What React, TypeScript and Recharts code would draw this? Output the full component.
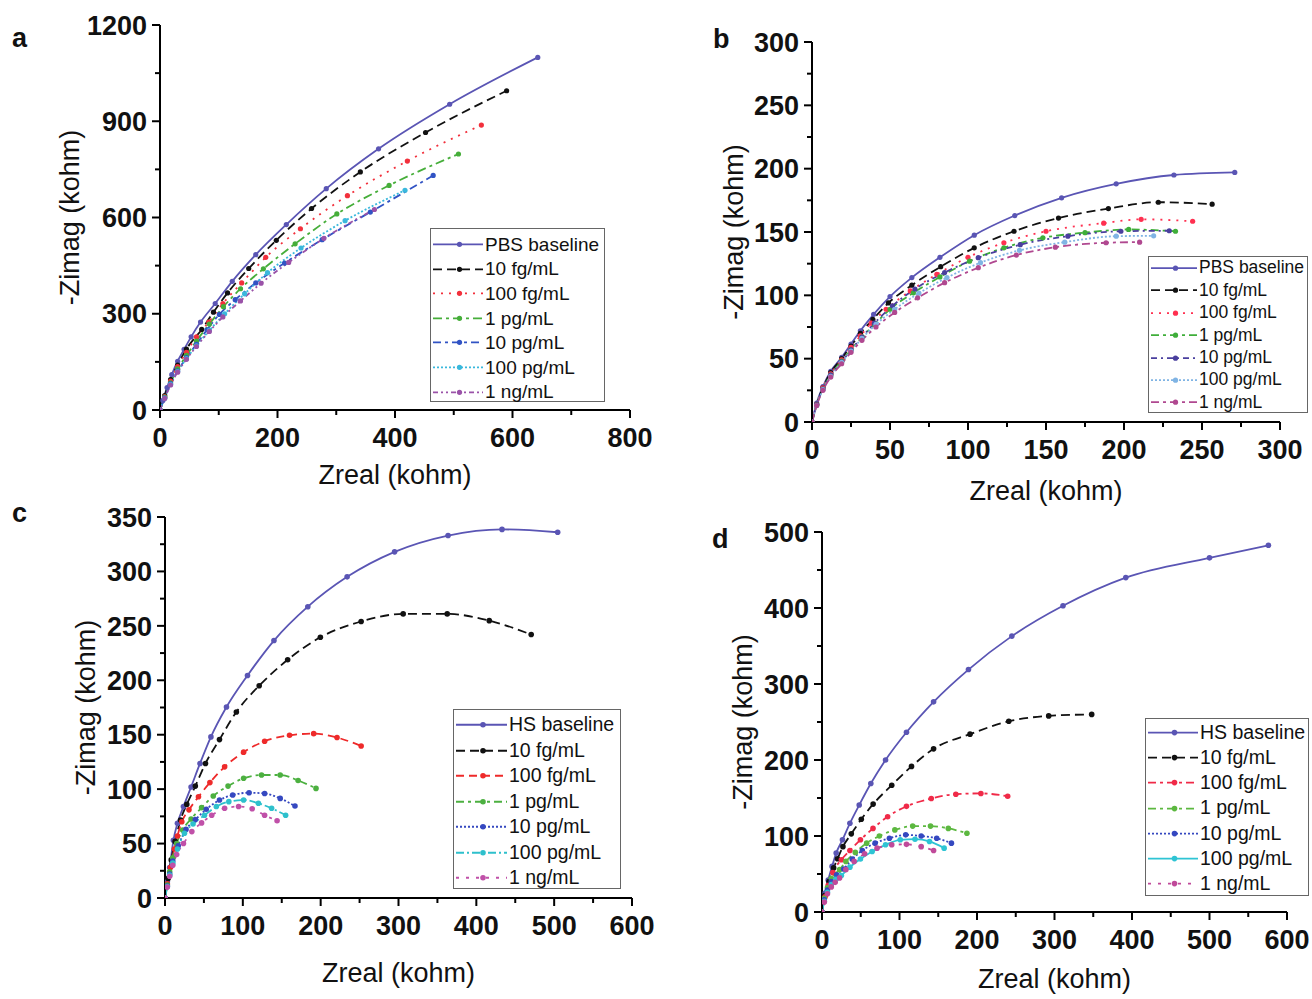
import React from 'react';
import { LineChart, Line, XAxis, YAxis, Legend, Label } from 'recharts';

const FONT = "Arial, 'Liberation Sans', Helvetica, sans-serif";

// ---------- tick values ----------
const aXTicks = [0, 100, 200, 300, 400, 500, 600, 700, 800];
const aXMajor = [0, 200, 400, 600, 800];
const aYTicks = [0, 150, 300, 450, 600, 750, 900, 1050, 1200];
const aYMajor = [0, 300, 600, 900, 1200];

const bXTicks = [0, 25, 50, 75, 100, 125, 150, 175, 200, 225, 250, 275, 300];
const bXMajor = [0, 50, 100, 150, 200, 250, 300];
const bYTicks = [0, 25, 50, 75, 100, 125, 150, 175, 200, 225, 250, 275, 300];
const bYMajor = [0, 50, 100, 150, 200, 250, 300];

const cXTicks = [0, 50, 100, 150, 200, 250, 300, 350, 400, 450, 500, 550, 600];
const cXMajor = [0, 100, 200, 300, 400, 500, 600];
const cYTicks = [0, 25, 50, 75, 100, 125, 150, 175, 200, 225, 250, 275, 300, 325, 350];
const cYMajor = [0, 50, 100, 150, 200, 250, 300, 350];

const dXTicks = [0, 50, 100, 150, 200, 250, 300, 350, 400, 450, 500, 550, 600];
const dXMajor = [0, 100, 200, 300, 400, 500, 600];
const dYTicks = [0, 50, 100, 150, 200, 250, 300, 350, 400, 450, 500];
const dYMajor = [0, 100, 200, 300, 400, 500];

// ---------- series names ----------
const pbsNames = ['PBS baseline', '10 fg/mL', '100 fg/mL', '1 pg/mL', '10 pg/mL', '100 pg/mL', '1 ng/mL'];
const hsNames = ['HS baseline', '10 fg/mL', '100 fg/mL', '1 pg/mL', '10 pg/mL', '100 pg/mL', '1 ng/mL'];

// ---------- panel a (PBS, Zreal vs -Zimag, kohm) ----------
const aBase = [[0, 0], [5, 30], [12, 70], [20, 110], [30, 152], [41, 189], [53, 228], [69, 274], [94, 332], [123, 401], [163, 484], [215, 578], [283, 690], [372, 814], [493, 953], [643, 1099]];
const a10fg = [[0, 0], [8, 45], [18, 95], [30, 140], [45, 190], [71, 251], [91, 305], [115, 365], [151, 441], [198, 529], [258, 628], [341, 742], [452, 865], [590, 995]];
const a100fg = [[0, 0], [8, 42], [18, 90], [30, 135], [45, 180], [62, 228], [83, 274], [107, 332], [139, 396], [180, 476], [239, 565], [319, 668], [421, 776], [547, 888]];
const a1pg = [[0, 0], [8, 40], [18, 85], [30, 128], [45, 170], [62, 215], [84, 268], [108, 322], [137, 378], [176, 440], [230, 518], [301, 611], [390, 700], [508, 798]];
const a10pg = [[0, 0], [8, 38], [18, 82], [30, 122], [45, 163], [62, 205], [80, 250], [101, 298], [128, 344], [163, 396], [212, 458], [276, 531], [358, 617], [465, 731]];
const a100pg = [[0, 0], [8, 37], [18, 80], [30, 120], [45, 160], [62, 200], [84, 248], [110, 300], [144, 362], [183, 428], [240, 505], [315, 590], [417, 685]];
const a1ng = [[0, 0], [8, 36], [18, 78], [30, 118], [45, 158], [62, 198], [84, 245], [107, 290], [137, 340], [172, 395], [219, 460], [279, 535], [365, 625]];

// ---------- panel b ----------
const bBase = [[0, 0], [3, 15], [7, 28], [12, 40], [19, 51], [25, 61.5], [31, 72], [39.5, 85], [50, 99], [64, 114], [82, 130], [104, 147.5], [130, 163], [160, 177], [195, 188], [232, 195], [271, 197]];
const b10fg = [[0, 0], [3, 14], [7, 27], [12, 39], [19, 50], [25, 60], [31, 70], [39, 81], [49, 94], [64, 108], [82.5, 122.6], [104, 137.5], [129.5, 150.6], [158, 161], [190, 168.5], [222, 173.5], [256.5, 172]];
const b100fg = [[0, 0], [3, 14], [7, 27], [12, 38], [19, 49], [25, 59], [31, 68], [38, 78], [47.5, 89], [63, 103.5], [80, 116.6], [100, 130], [123, 141.5], [150, 150.6], [187, 157], [211, 160], [244, 158.5]];
const b1pg = [[0, 0], [3, 13.5], [7, 26], [12, 37], [19, 48], [25, 57], [32, 67], [40, 77], [50, 89], [65, 102], [82, 114.5], [101, 127], [123, 137.5], [148, 145.4], [175, 149.5], [203, 152], [233, 150.6]];
const b10pg = [[0, 0], [3, 13.5], [7, 26], [12, 37], [19, 47.5], [25, 57], [32, 67], [40, 78], [51.6, 91.7], [66, 105], [85, 118], [106.6, 129.7], [133.5, 140], [164, 146.7], [198, 150.6], [229, 151]];
const b100pg = [[0, 0], [3, 13], [7, 25.5], [12, 36], [19, 47], [25, 56], [32, 66], [41, 77], [53, 89], [68.5, 101.7], [86.5, 114], [108, 125.8], [133, 135.5], [162, 142], [195, 146.7], [219, 147]];
const b1ng = [[0, 0], [3, 13], [7, 25], [12, 35.5], [19, 46], [25, 55], [32, 64.5], [41, 75], [53, 86.5], [67.7, 98], [85, 110], [106.6, 121.8], [131, 131.8], [156, 138], [188.5, 141.5], [210, 142]];

// ---------- panel c (HS) ----------
const cBase = [[0, 0], [3, 15], [6, 28], [10.8, 53], [16, 68.6], [23.7, 84], [33.5, 102], [45, 123.6], [59, 148], [79, 175.4], [106, 204.4], [140, 236.5], [183.5, 267.6], [234, 295], [295, 318], [363.7, 333], [433, 338.6], [504.5, 336]];
const c10fg = [[0, 0], [4, 18], [8, 35], [13, 52], [20, 71.7], [28, 86], [39, 102.8], [52, 123.6], [70, 145.5], [91.7, 170.9], [121, 195], [157.6, 218.8], [199.6, 239.5], [252, 254], [306, 261], [362.6, 261], [416.6, 254.8], [470.5, 242]];
const c100fg = [[0, 0], [3, 13], [7, 28], [12, 45], [16, 57], [21.6, 70], [30.8, 81], [43, 93], [57.7, 106], [76.6, 120.5], [101, 134], [128, 144], [160, 149.5], [191, 151], [221, 147.4], [252, 139.7]];
const c1pg = [[0, 0], [3, 12], [6, 24], [10, 37], [15, 50], [22.7, 62.5], [33.5, 72.6], [47, 83], [62, 93.7], [81, 102.8], [101, 110], [124, 113], [148, 113], [171, 108], [194, 100.7]];
const c10pg = [[0, 0], [3, 11], [6, 22], [10, 34], [17, 48], [27, 63], [39, 72], [53, 81.5], [70, 90], [87, 94.6], [108, 96.7], [128, 96], [148, 91.5], [167, 84.5]];
const c100pg = [[0, 0], [3, 10.5], [6, 21], [10, 32], [16, 45], [25, 59.5], [36, 68], [50.7, 76], [66, 84], [82, 88.5], [101, 90], [120, 87], [137, 82.4], [155, 76]];
const c1ng = [[0, 0], [3, 10], [6, 20], [10, 30], [15, 40], [23.7, 50], [34.5, 61], [47, 69], [60, 76], [76.6, 82.4], [94.5, 84], [112, 82], [128, 76], [144, 71]];

// ---------- panel d (HS) ----------
const dBase = [[0, 0], [4, 25], [8, 42], [13, 60], [18.3, 77.5], [26.4, 95], [36, 116.7], [48, 140.7], [63, 169], [82, 200], [109, 236.5], [144, 276.5], [189, 319], [245, 363], [311, 403], [392, 440], [500, 466], [576, 482.5]];
const d10fg = [[0, 0], [4, 22], [9, 40], [15, 58], [20, 70], [27, 86], [37.8, 102.8], [50.7, 122], [66, 142], [90, 166.8], [115.5, 191.6], [144, 214.7], [191, 234], [241, 251], [292.5, 258], [348, 260]];
const d100fg = [[0, 0], [4, 20], [8, 35], [14, 52], [25, 68.8], [36, 81], [49.6, 95], [65.8, 110], [84.7, 125.4], [109, 139], [141, 149.4], [172.7, 155], [205, 156], [239.6, 152.4]];
const d1pg = [[0, 0], [3, 18], [7, 32], [12, 44], [22.7, 55.7], [30.8, 66.6], [43, 78.4], [57.7, 90.6], [74, 100], [94, 108], [117, 113], [140, 113], [163, 110], [187, 103.6]];
const d10pg = [[0, 0], [3, 16], [7, 29], [12, 40], [19, 49], [28, 56.6], [39, 69.7], [52, 81], [68.5, 90.6], [87, 97], [108, 101.5], [128, 100], [148, 97], [167, 90.6]];
const d100pg = [[0, 0], [3, 14], [7, 26], [12, 36], [18, 43], [25, 48], [36, 59], [49.6, 69.7], [64.7, 79.7], [82, 88.4], [101, 95], [120, 95.8], [138.7, 92.8], [157.6, 84]];
const d1ng = [[0, 0], [3, 13], [7, 24], [12, 33], [17, 39], [22.7, 44.9], [30.8, 55.7], [41.5, 66.6], [55, 76.6], [71, 84], [90, 88.4], [109, 89], [128, 86], [144, 81]];

// ---------- styles ----------
const aColors = ['#5a55b4', '#111111', '#f2303c', '#46ae3a', '#3153c4', '#3ab8dc', '#9a52a8'];
const bColors = ['#5a55b4', '#111111', '#ff3050', '#3fae3a', '#4a3f9e', '#80b4e4', '#b04890'];
const cColors = ['#5a55b4', '#111111', '#ee2a2a', '#4cb040', '#3548c0', '#2ec0cc', '#c050a8'];
const dColors = ['#5a55b4', '#111111', '#f02a48', '#5cb840', '#3548c0', '#2ec4d4', '#c04a9a'];

const aDash = [undefined, '9 5', '2 6', '9 4 3 4', '8 4 3 4', '2 2', '5 3 2 3 2 3'];
const bDash = [undefined, '9 5', '2 6', '8 4 3 4', '6 4 2 4', '2 2', '8 4 3 4'];
const cDash = [undefined, '9 5', '8 5', '8 4 3 4', '2 2', '8 3 2 3', '3 7'];
const dDash = [undefined, '9 5', '8 4 3 4', '8 4 3 4', '2 2', undefined, '3 7'];

type Pt = number[];
const toPts = (arr: Pt[]) => arr.map(([x, y]) => ({ x, y }));

const build = (names: string[], sets: Pt[][], colors: string[], dashes: (string | undefined)[]) =>
  names.map((name, i) => ({ name, data: toPts(sets[i]), color: colors[i], dash: dashes[i] }));

const panels = [
  {
    id: 'a', left: 0, top: 0, w: 656, h: 500,
    plot: { l: 160, r: 630, t: 25, b: 410 },
    xMax: 800, xTicks: aXTicks, xMajor: aXMajor, yMax: 1200, yTicks: aYTicks, yMajor: aYMajor,
    letter: { x: 12, y: 47 }, xTitleDy: 74, yTitleDx: 91, dotR: 2.6,
    legend: { left: 430, top: 228, w: 175, h: 174, rowH: 24.6, padTop: 3, sampleW: 53, font: 19 },
    series: build(pbsNames, [aBase, a10fg, a100fg, a1pg, a10pg, a100pg, a1ng], aColors, aDash),
  },
  {
    id: 'b', left: 656, top: 0, w: 656, h: 512,
    plot: { l: 812, r: 1280, t: 42, b: 422 },
    xMax: 300, xTicks: bXTicks, xMajor: bXMajor, yMax: 300, yTicks: bYTicks, yMajor: bYMajor,
    letter: { x: 713, y: 48 }, xTitleDy: 78, yTitleDx: 79, dotR: 2.6,
    legend: { left: 1148, top: 256, w: 160, h: 157, rowH: 22.4, padTop: 0, sampleW: 49, font: 17.5 },
    series: build(pbsNames, [bBase, b10fg, b100fg, b1pg, b10pg, b100pg, b1ng], bColors, bDash),
  },
  {
    id: 'c', left: 0, top: 490, w: 656, h: 509,
    plot: { l: 165, r: 632, t: 517, b: 898 },
    xMax: 600, xTicks: cXTicks, xMajor: cXMajor, yMax: 350, yTicks: cYTicks, yMajor: cYMajor,
    letter: { x: 12, y: 522 }, xTitleDy: 84, yTitleDx: 80, dotR: 2.8,
    legend: { left: 453, top: 709, w: 168, h: 180, rowH: 25.5, padTop: 2, sampleW: 54, font: 19.5 },
    series: build(hsNames, [cBase, c10fg, c100fg, c1pg, c10pg, c100pg, c1ng], cColors, cDash),
  },
  {
    id: 'd', left: 656, top: 505, w: 656, h: 494,
    plot: { l: 822, r: 1287, t: 532, b: 912 },
    xMax: 600, xTicks: dXTicks, xMajor: dXMajor, yMax: 500, yTicks: dYTicks, yMajor: dYMajor,
    letter: { x: 712, y: 548 }, xTitleDy: 76, yTitleDx: 80, dotR: 2.8,
    legend: { left: 1145, top: 718, w: 164, h: 178, rowH: 25.2, padTop: 1, sampleW: 53, font: 19.5 },
    series: build(hsNames, [dBase, d10fg, d100fg, d1pg, d10pg, d100pg, d1ng], dColors, dDash),
  },
];

const TICK_FONT = 27;

function renderXTick(p: any, majors: number[]) {
  const v = p.payload.value;
  const major = majors.includes(v);
  return (
    <g>
      <line x1={p.x} x2={p.x} y1={p.y} y2={p.y + (major ? 8 : 5)} stroke="#000" strokeWidth={2} />
      {major && (
        <text x={p.x} y={p.y + 37} textAnchor="middle" fontSize={TICK_FONT} fontWeight="bold" fontFamily={FONT} fill="#111">
          {v}
        </text>
      )}
    </g>
  );
}

function renderYTick(p: any, majors: number[]) {
  const v = p.payload.value;
  const major = majors.includes(v);
  return (
    <g>
      <line x1={p.x} x2={p.x - (major ? 8 : 5)} y1={p.y} y2={p.y} stroke="#000" strokeWidth={2} />
      {major && (
        <text x={p.x - 13} y={p.y} dy="0.36em" textAnchor="end" fontSize={TICK_FONT} fontWeight="bold" fontFamily={FONT} fill="#111">
          {v}
        </text>
      )}
    </g>
  );
}

function LegendBox({ cfg }: { cfg: any }) {
  const L = cfg.legend;
  return (
    <div
      style={{
        boxSizing: 'border-box', width: L.w, height: L.h, border: '1.5px solid #666', background: '#fff',
        paddingTop: L.padTop, fontFamily: FONT,
      }}
    >
      {cfg.series.map((s: any, i: number) => (
        <div key={i} style={{ height: L.rowH, display: 'flex', alignItems: 'center' }}>
          <svg width={L.sampleW} height={L.rowH} style={{ display: 'block', flex: 'none' }}>
            <line x1={2} x2={L.sampleW - 1} y1={L.rowH / 2} y2={L.rowH / 2} stroke={s.color} strokeWidth={1.8} strokeDasharray={s.dash} />
            <circle cx={L.sampleW / 2 + 2} cy={L.rowH / 2} r={cfg.dotR} fill={s.color} />
          </svg>
          <span style={{ fontSize: L.font, lineHeight: 1, marginLeft: 1, color: '#111', whiteSpace: 'nowrap' }}>{s.name}</span>
        </div>
      ))}
    </div>
  );
}

function Panel({ cfg }: { cfg: any }) {
  const { left, top, w, h, plot } = cfg;
  const pl = plot.l - left;
  const pr = plot.r - left;
  const pt = plot.t - top;
  const pb = plot.b - top;
  const lx = cfg.letter.x - left;
  const ly = cfg.letter.y - top;
  const ycx = pl - cfg.yTitleDx;
  const ycy = (pt + pb) / 2;
  return (
    <div style={{ position: 'absolute', left, top, width: w, height: h }}>
      <LineChart width={w} height={h} margin={{ top: pt, right: w - pr, bottom: 0, left: 0 }}>
        <XAxis
          type="number" dataKey="x" domain={[0, cfg.xMax]} ticks={cfg.xTicks} interval={0}
          height={h - pb} tickSize={0} tickMargin={0} tickLine={false} allowDataOverflow
          axisLine={{ stroke: '#000', strokeWidth: 2 }}
          tick={(p: any) => renderXTick(p, cfg.xMajor)}
        >
          <Label
            content={() => (
              <text x={(pl + pr) / 2} y={pb + cfg.xTitleDy} textAnchor="middle" fontSize={27} fontFamily={FONT} fill="#111">
                Zreal (kohm)
              </text>
            )}
          />
        </XAxis>
        <YAxis
          type="number" domain={[0, cfg.yMax]} ticks={cfg.yTicks} interval={0}
          width={pl} tickSize={0} tickMargin={0} tickLine={false} allowDataOverflow
          axisLine={{ stroke: '#000', strokeWidth: 2 }}
          tick={(p: any) => renderYTick(p, cfg.yMajor)}
        >
          <Label
            content={() => (
              <g>
                <text x={ycx} y={ycy} dy="0.36em" textAnchor="middle" fontSize={27} fontFamily={FONT} fill="#111" transform={`rotate(-90 ${ycx} ${ycy})`}>
                  -Zimag (kohm)
                </text>
                <text x={lx} y={ly} fontSize={27} fontWeight="bold" fontFamily={FONT} fill="#111">
                  {cfg.id}
                </text>
              </g>
            )}
          />
        </YAxis>
        {cfg.series.map((s: any) => (
          <Line
            key={s.name}
            name={s.name}
            data={s.data}
            dataKey="y"
            type="monotone"
            stroke={s.color}
            strokeWidth={1.8}
            strokeDasharray={s.dash}
            isAnimationActive={false}
            activeDot={false}
            dot={(p: any) => <circle key={`${s.name}-${p.index}`} cx={p.cx} cy={p.cy} r={cfg.dotR} fill={s.color} />}
          />
        ))}
        <Legend
          layout="vertical" align="center" verticalAlign="middle"
          wrapperStyle={{ left: cfg.legend.left - left, top: cfg.legend.top - top, width: cfg.legend.w, height: cfg.legend.h, margin: 0, padding: 0 }}
          content={() => <LegendBox cfg={cfg} />}
        />
      </LineChart>
    </div>
  );
}

export default function App() {
  return (
    <div style={{ position: 'absolute', left: 0, top: 0, width: 1312, height: 999, background: '#fff', overflow: 'hidden' }}>
      {panels.map((cfg) => (
        <Panel key={cfg.id} cfg={cfg} />
      ))}
    </div>
  );
}
